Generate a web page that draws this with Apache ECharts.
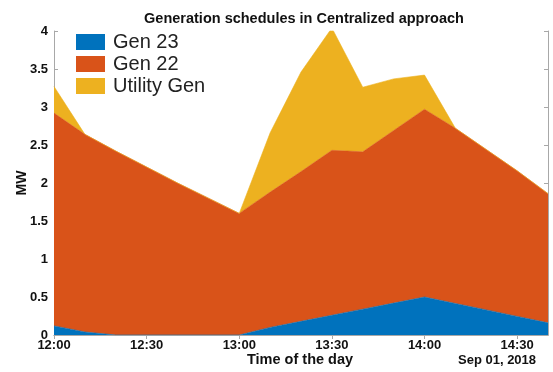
<!DOCTYPE html>
<html>
<head>
<meta charset="utf-8">
<script src="https://cdn.jsdelivr.net/npm/echarts@6/dist/echarts.min.js"></script>
<style>
  html, body { margin: 0; padding: 0; background: #fff; }
  #chart { width: 553px; height: 372px; }
</style>
</head>
<body>
<div id="chart"></div>
<script>
// one sample every 10 min from 12:00 to 14:40
const times = ['12:00', '12:10', '12:20', '12:30', '12:40', '12:50', '13:00', '13:10', '13:20',
    '13:30', '13:40', '13:50', '14:00', '14:10', '14:20', '14:30', '14:40'];
const gen23 = [0.12, 0.04, 0, 0, 0, 0, 0, 0.1, 0.18, 0.26, 0.34, 0.42, 0.5, 0.415, 0.33, 0.245, 0.16];
const gen22 = [2.80, 2.60, 2.42, 2.21, 2.0, 1.8, 1.6, 1.78, 1.97, 2.17, 2.07, 2.27, 2.47, 2.305, 2.11, 1.915, 1.70];
const utilityGen = [0.35, 0, 0, 0, 0, 0, 0, 0.78, 1.31, 1.61, 0.85, 0.68, 0.45, 0, 0, 0, 0];
const seriesNames = ['Gen 23', 'Gen 22', 'Utility Gen'];
const colors = ['#0072BD', '#D95319', '#EDB120'];

const font = '"Liberation Sans", Arial, sans-serif';

const makeArea = (name, values, color) => ({
    name: name,
    type: 'line',
    stack: 'total',
    xAxisIndex: 0,
    yAxisIndex: 0,
    data: values,
    symbol: 'none',
    lineStyle: { width: 0.6, color: color },
    areaStyle: { color: color, opacity: 1 },
    itemStyle: { color: color },
    emphasis: { disabled: true }
});

const chart = echarts.init(document.getElementById('chart'), null, { renderer: 'canvas' });

const axisLine = { show: true, lineStyle: { color: '#a8a8a8', width: 1 } };
const tick = { show: true, inside: true, length: 4, interval: 2, lineStyle: { color: '#a8a8a8' } };
const yTick = { show: true, inside: true, length: 4, lineStyle: { color: '#a8a8a8' } };

chart.setOption({
    animation: false,
    title: {
        text: 'Generation schedules in Centralized approach',
        left: 299,
        textAlign: 'center',
        top: 6,
        textStyle: { fontFamily: font, fontSize: 14.5, fontWeight: 'bold', color: '#111' }
    },
    legend: {
        data: seriesNames,
        orient: 'vertical',
        left: 71,
        top: 27,
        itemWidth: 29,
        itemHeight: 16,
        itemGap: 2,
        icon: 'rect',
        textStyle: { fontFamily: font, fontSize: 20, color: '#222', padding: [0, 0, 0, 3] }
    },
    grid: { left: 54, right: 5, top: 31, bottom: 37 },
    xAxis: [{
        type: 'category',
        data: times,
        boundaryGap: false,
        axisLine: axisLine,
        axisTick: tick,
        splitLine: { show: false },
        axisLabel: {
            interval: 2,
            fontFamily: font, fontSize: 13, fontWeight: 'bold', color: '#111', margin: 4
        }
    }, {
        type: 'category',
        data: times,
        boundaryGap: false,
        position: 'top',
        axisLine: axisLine,
        axisTick: tick,
        splitLine: { show: false },
        axisLabel: { show: false }
    }],
    yAxis: [{
        type: 'value',
        min: 0,
        max: 4,
        interval: 0.5,
        axisLine: axisLine,
        axisTick: yTick,
        splitLine: { show: false },
        axisLabel: { fontFamily: font, fontSize: 13, fontWeight: 'bold', color: '#111', margin: 6 }
    }, {
        type: 'value',
        position: 'right',
        min: 0,
        max: 4,
        interval: 0.5,
        axisLine: axisLine,
        axisTick: yTick,
        splitLine: { show: false },
        axisLabel: { show: false }
    }],
    graphic: [{
        type: 'text',
        x: 22,
        y: 183,
        rotation: Math.PI / 2,
        style: {
            text: 'MW', font: 'bold 14px ' + font, fill: '#111',
            align: 'center', verticalAlign: 'middle'
        }
    }, {
        type: 'text',
        left: 300 - 53,
        top: 352,
        style: { text: 'Time of the day', font: 'bold 14.5px ' + font, fill: '#111' }
    }, {
        type: 'text',
        left: 458,
        top: 354,
        style: { text: 'Sep 01, 2018', font: 'bold 13px ' + font, fill: '#111' }
    }],
    series: [
        makeArea(seriesNames[0], gen23, colors[0]),
        makeArea(seriesNames[1], gen22, colors[1]),
        makeArea(seriesNames[2], utilityGen, colors[2])
    ]
});
</script>
</body>
</html>
